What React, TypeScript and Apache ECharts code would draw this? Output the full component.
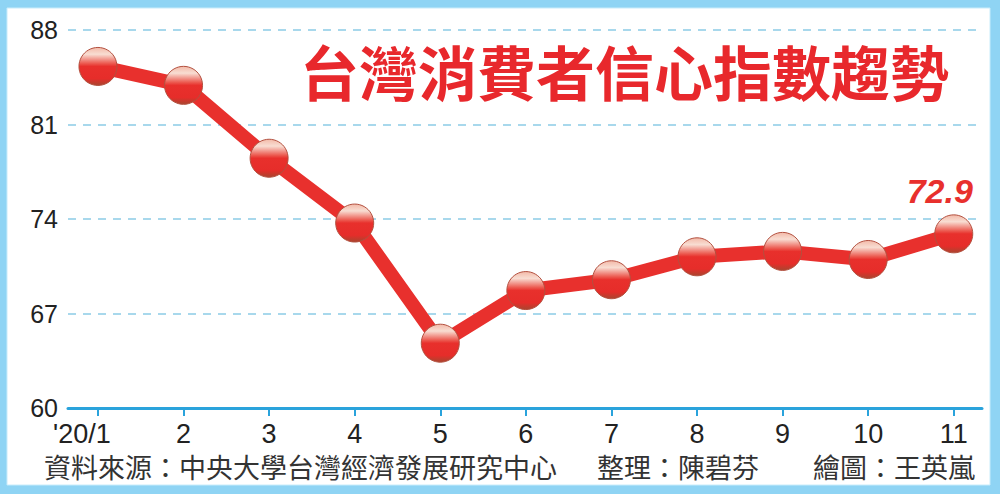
import React, { useEffect, useRef } from "react";
import * as echarts from "echarts";

const categories = ["'20/1", "2", "3", "4", "5", "6", "7", "8", "9", "10", "11"];
const values = [85.3, 83.9, 78.5, 73.7, 64.8, 68.7, 69.5, 71.2, 71.6, 71.0, 72.9];
const yTicks = [60, 67, 74, 81, 88];
const title = "台灣消費者信心指數趨勢";
const sourceText = "資料來源：中央大學台灣經濟發展研究中心";
const editorText = "整理：陳碧芬";
const artistText = "繪圖：王英嵐";

const RED = "#e8302d";
const BLUE_AXIS = "#2aa3dc";
const GRID_DASH = "#8ccbe6";
const BORDER = "#8fd4f4";
const CJK = '"Noto Sans CJK TC", "Noto Sans CJK SC", sans-serif';
const NUM = '"Liberation Sans", Arial, sans-serif';

export default function App() {
  const ref = useRef<HTMLDivElement>(null);
  useEffect(() => {
    if (!ref.current) return;
    const chart = echarts.init(ref.current, null, { renderer: "svg" });
    const lastIdx = values.length - 1;
    const data = values.map((v, i) => {
      const item: any = { value: [i, v] };
      if (i === lastIdx) {
        item.label = {
          show: true,
          position: "top",
          distance: 6,
          offset: [-14, 0],
          formatter: String(v),
          color: RED,
          fontSize: 34,
          fontWeight: "bold",
          fontStyle: "italic",
          fontFamily: NUM,
        };
      }
      return item;
    });
    const ballColor = {
      type: "linear",
      x: 0, y: 0, x2: 0, y2: 1,
      colorStops: [
        { offset: 0, color: "#f3b9a8" },
        { offset: 0.18, color: "#f8ddd2" },
        { offset: 0.42, color: "#ec5a50" },
        { offset: 0.5, color: "#e8302c" },
        { offset: 0.82, color: "#e62d2a" },
        { offset: 1, color: "#a9452f" },
      ],
    };
    chart.setOption({
      animation: false,
      backgroundColor: BORDER,
      grid: { left: 68, right: 18, top: 30, bottom: 86, containLabel: false },
      xAxis: {
        type: "value",
        min: -0.35,
        max: 10.33,
        splitLine: { show: false },
        axisLine: { show: true, lineStyle: { color: BLUE_AXIS, width: 3 } },
        axisTick: {
          show: true,
          customValues: categories.map((_, i) => i),
          length: 8,
          lineStyle: { color: BLUE_AXIS, width: 2 },
        },
        axisLabel: {
          customValues: categories.map((_, i) => i),
          formatter: (v: number) => {
            const i = Math.round(v);
            const s = categories[i] ?? "";
            return i === 0 ? "{first|" + s + "}" : s;
          },
          rich: {
            first: {
              color: "#222",
              fontSize: 27,
              fontFamily: NUM,
              padding: [0, 32, 0, 0],
            },
          },
          color: "#222",
          fontSize: 27,
          fontFamily: NUM,
          margin: 12,
        },
      },
      yAxis: {
        type: "value",
        min: 60,
        max: 88,
        interval: 7,
        axisLine: { show: false },
        axisTick: { show: false },
        axisLabel: {
          color: "#222",
          fontSize: 25,
          fontFamily: NUM,
          margin: 10,
          formatter: (v: number) => (yTicks.includes(v) ? String(v) : ""),
        },
        splitLine: {
          show: true,
          lineStyle: { color: GRID_DASH, type: [8, 7], width: 1.5 },
          showMinLine: false,
        },
      },
      series: [
        {
          type: "line",
          data,
          lineStyle: { color: RED, width: 14 },
          symbol: "circle",
          symbolSize: 38,
          itemStyle: { color: ballColor, borderColor: "#b3503f", borderWidth: 1 },
          z: 5,
        },
      ],
      graphic: [
        {
          type: "rect",
          z: -10, silent: true,
          shape: { x: 7, y: 8, width: 983, height: 477 },
          style: { fill: "#ffffff", stroke: "#c8ecfb", lineWidth: 1 },
        },
        {
          type: "text",
          left: 300,
          top: 41,
          z: 10,
          style: {
            text: title,
            fill: "#e8282c",
            fontSize: 59,
            fontWeight: "bold",
            fontFamily: CJK,
          },
        },
        {
          type: "text",
          left: 44,
          top: 453,
          style: { text: sourceText, fill: "#333", fontSize: 27, fontFamily: CJK },
        },
        {
          type: "text",
          left: 597,
          top: 453,
          style: { text: editorText, fill: "#333", fontSize: 27, fontFamily: CJK },
        },
        {
          type: "text",
          left: 813,
          top: 453,
          style: { text: artistText, fill: "#333", fontSize: 27, fontFamily: CJK },
        },
      ],
    });
    return () => chart.dispose();
  }, []);
  return (
    <div
      ref={ref}
      style={{ position: "fixed", left: 0, top: 0, width: 1000, height: 494 }}
    />
  );
}
